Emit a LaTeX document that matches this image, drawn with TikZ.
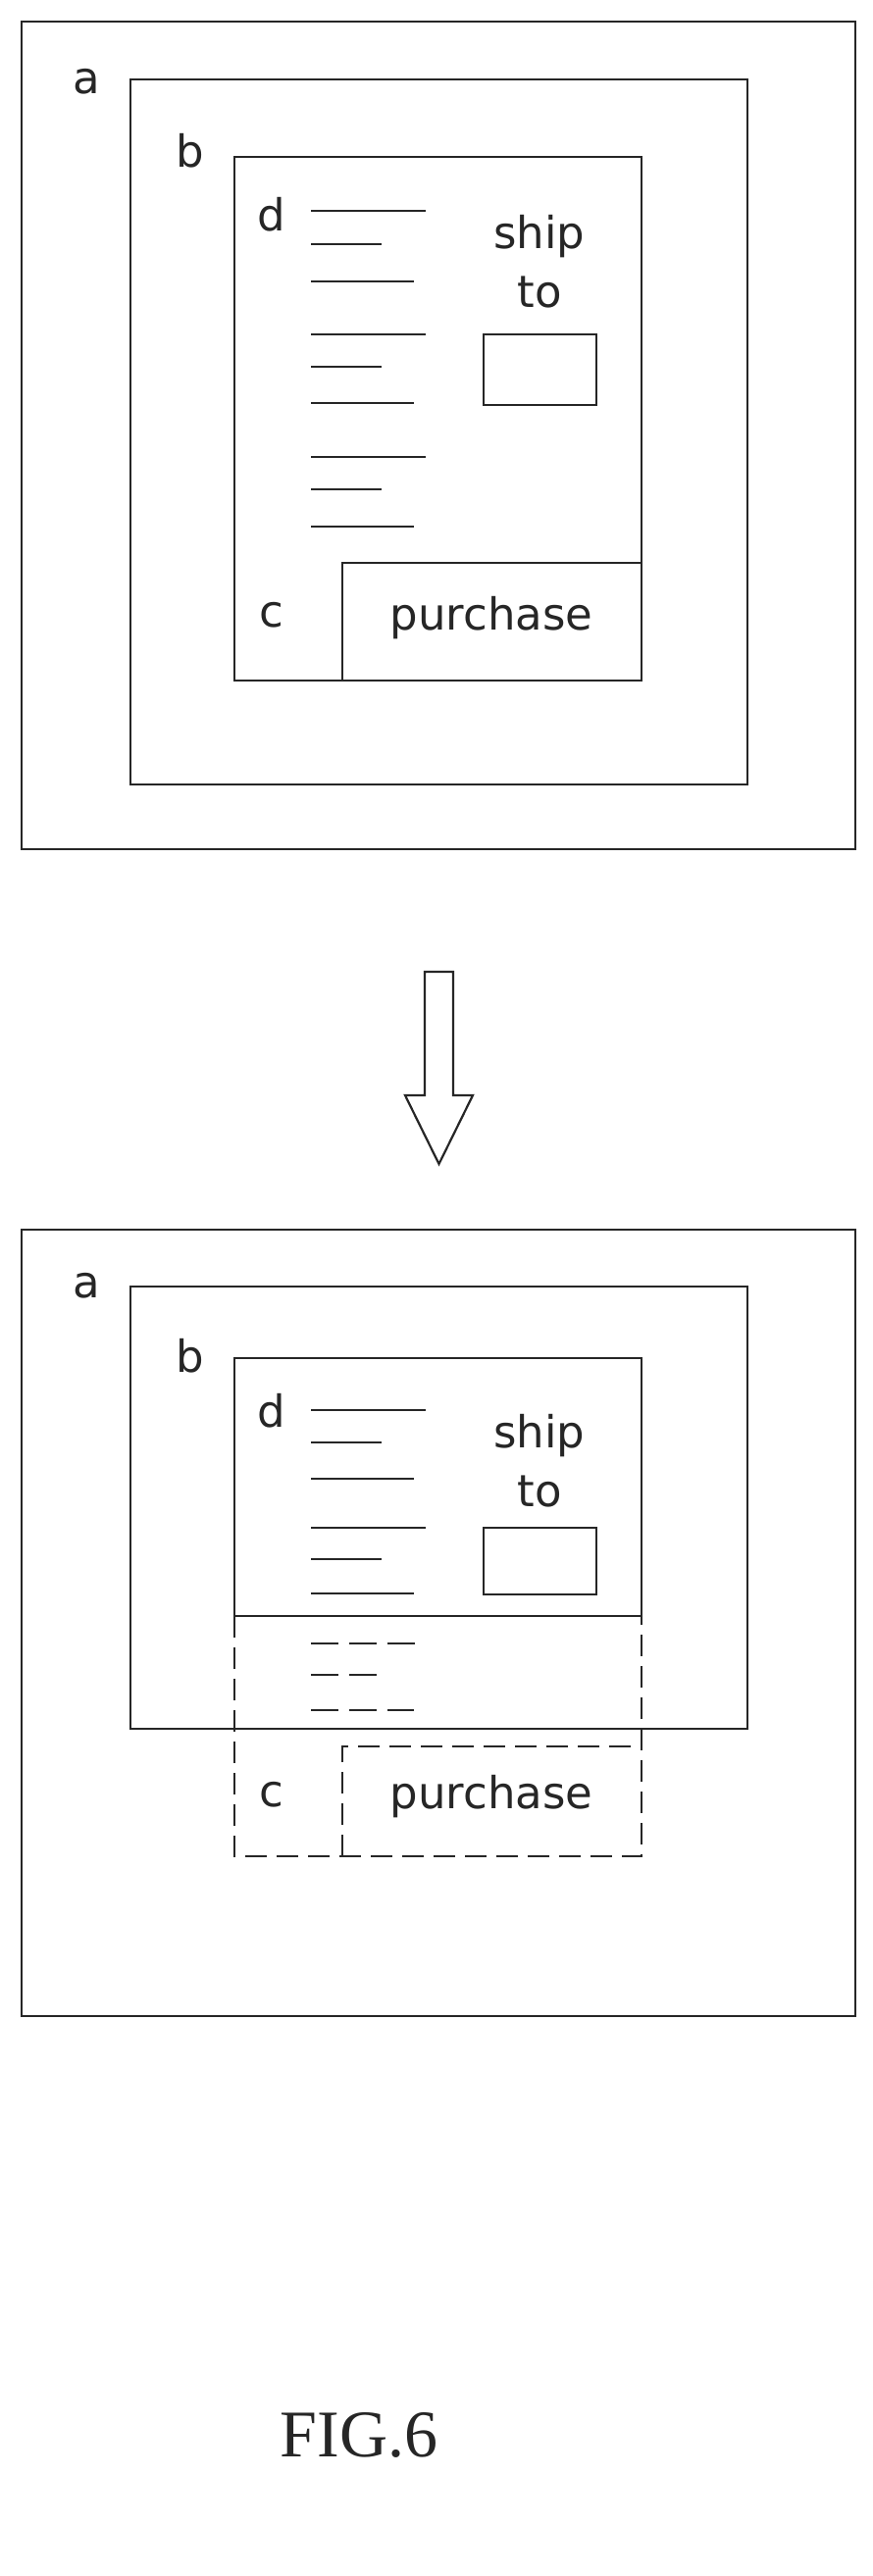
\documentclass[tikz,border=0pt]{standalone}
\usepackage{fontspec}
\setmainfont{DejaVu Sans}
\newfontfamily\figfont{Liberation Serif}
\begin{document}
\begin{tikzpicture}[x=1pt,y=-1pt,
  box/.style={draw=black!85,line width=2.2pt},
  dbox/.style={draw=black!85,line width=1.5pt,dash pattern=on 22pt off 10pt},
  txt/.style={font=\fontsize{45}{48}\selectfont,text=black!85,inner sep=0pt},
  ln/.style={draw=black!85,line width=2.2pt},
  dln/.style={draw=black!85,line width=2pt,dash pattern=on 28pt off 11pt}]
\useasboundingbox (0,0) rectangle (890,2627);
% top
\draw[box] (22,22) rectangle (872,866);
\draw[box] (133,81) rectangle (762,800);
\draw[box] (239,160) rectangle (654,694);
\draw[box] (349,574) rectangle (654,694);
\draw[box] (493,341) rectangle (608,413);
\node[txt] (a1) at (88,83) {a};
\node[txt] (b1) at (194,154) {b};
\node[txt] (d1) at (277,219) {d};
\node[txt] (c1) at (277,627) {c};
\node[txt] (p1) at (501,630) {purchase};
\node[txt] (s1) at (550,241) {ship};
\node[txt] (t1) at (550,298) {to};
\foreach \y/\e in {215/434,249/389,287/422,341/434,374/389,411/422,466/434,499/389,537/422}
  \draw[ln] (317,\y) -- (\e,\y);
% arrow
\draw[box,line join=miter] (433,991) -- (462,991) -- (462,1117) -- (482,1117) -- (447.5,1187) -- (413,1117) -- (433,1117) -- cycle;
% bottom
\draw[box] (22,1254) rectangle (872,2056);
\draw[box] (133,1312) rectangle (762,1763);
\draw[box] (239,1385) rectangle (654,1648);
\draw[box] (493,1558) rectangle (608,1626);
\draw[dbox] (239,1648) -- (239,1893) -- (654,1893) -- (654,1648);
\draw[dbox] (349,1893) -- (349,1781) -- (654,1781);
\node[txt] (a2) at (88,1311) {a};
\node[txt] (b2) at (194,1383) {b};
\node[txt] (d2) at (277,1439) {d};
\node[txt] (c2) at (277,1830) {c};
\node[txt] (p2) at (501,1832) {purchase};
\node[txt] (s2) at (550,1464) {ship};
\node[txt] (t2) at (550,1521) {to};
\foreach \y/\e in {1438/434,1471/389,1508/422,1558/434,1590/389,1625/422}
  \draw[ln] (317,\y) -- (\e,\y);
\foreach \y/\e in {1676/434,1708/389,1744/422}
  \draw[dln] (317,\y) -- (\e,\y);
\node[inner sep=0pt,font=\figfont\fontsize{68}{70}\selectfont,text=black!85] (fig) at (366,2483) {FIG.6};
\end{tikzpicture}
\end{document}
